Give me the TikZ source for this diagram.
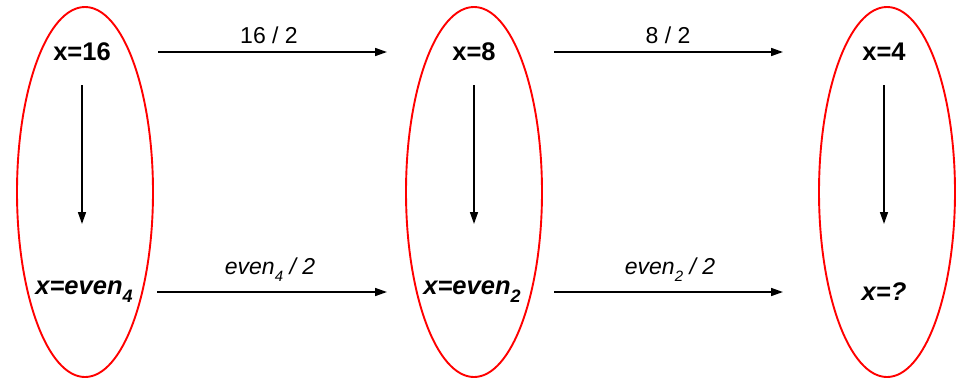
\documentclass[tikz,border=0pt]{standalone}
\usepackage{fontspec}
\setmainfont{Liberation Sans}
\usetikzlibrary{arrows.meta,shapes.geometric}
\newcommand{\lowsub}[3]{\raisebox{-#1}{\fontsize{#2}{#2}\selectfont #3}}
\tikzset{
  ring/.style={draw=red, line width=1.9pt, ellipse, minimum width=136pt, minimum height=370pt, inner sep=0pt},
  val/.style={font=\fontsize{25.5}{28}\selectfont\bfseries, inner sep=0pt},
  step arrow/.style={-{Triangle[length=12pt,width=8pt]}, line width=1.6pt},
  lbl/.style={font=\fontsize{23}{26}\selectfont, anchor=base, inner sep=0pt}
}
\begin{document}
\begin{tikzpicture}[x=1pt, y=-1pt]
    \useasboundingbox (0,0) rectangle (964,378);

    % Ellipses around each state
    \node[ring] (c1) at (85,192) {};
    \node[ring] (c2) at (474,192) {};
    \node[ring] (c3) at (887,192) {};

    % Concrete values
    \node[val] (n16) at (82,52) {x=16};
    \node[val] (n8) at (474,52) {x=8};
    \node[val] (n4) at (884,52) {x=4};

    % Abstract values
    \node[val] (e4) at (84,292) {\itshape x=even\lowsub{8pt}{18}{4}};
    \node[val] (e2) at (472,292) {\itshape x=even\lowsub{8pt}{18}{2}};
    \node[val] (eq) at (884,292) {\itshape x=?};

    % Top row
    \draw[step arrow, shorten <=76pt, shorten >=87pt] (n16.center) -- (n8.center) node[midway, lbl, xshift=-9pt, yshift=9pt] {16 / 2};
    \draw[step arrow, shorten <=80pt, shorten >=101pt] (n8.center) -- (n4.center) node[midway, lbl, xshift=-11pt, yshift=9pt] {8 / 2};

    % Bottom row
    \draw[step arrow, shorten <=73pt, shorten >=85pt] (e4.center) -- (e2.center) node[midway, lbl, xshift=-8pt, yshift=18pt] {\itshape even\lowsub{7pt}{15}{4} / 2};
    \draw[step arrow, shorten <=82pt, shorten >=101pt] (e2.center) -- (eq.center) node[midway, lbl, xshift=-8pt, yshift=18pt] {\itshape even\lowsub{7pt}{15}{2} / 2};

    % Abstraction
    \draw[step arrow, shorten <=33pt, shorten >=68pt] (n16.center) -- (n16.center |- e4.center);
    \draw[step arrow, shorten <=33pt, shorten >=68pt] (n8.center) -- (n8.center |- e2.center);
    \draw[step arrow, shorten <=33pt, shorten >=68pt] (n4.center) -- (n4.center |- eq.center);
\end{tikzpicture}
\end{document}
